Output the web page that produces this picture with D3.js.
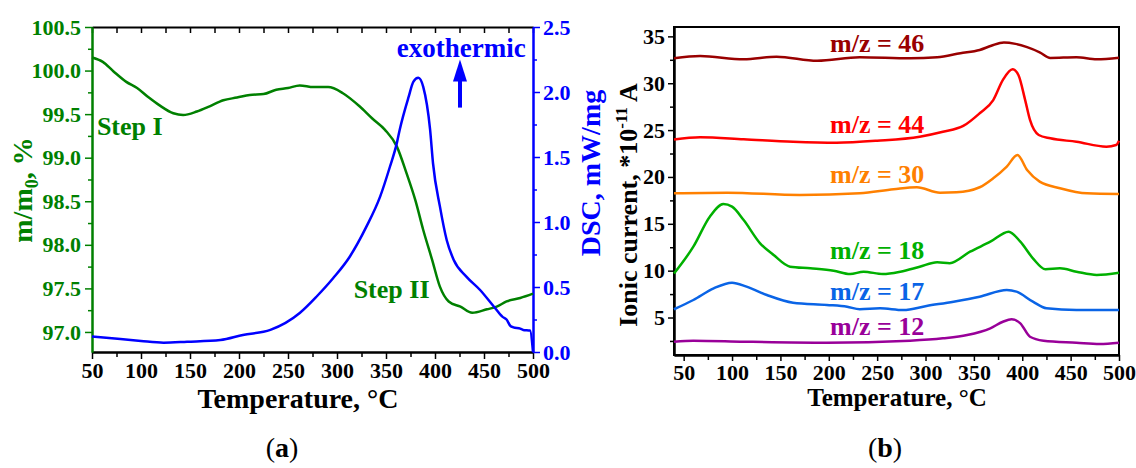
<!DOCTYPE html>
<html>
<head>
<meta charset="utf-8">
<script src="https://cdn.jsdelivr.net/npm/d3@7"></script>
<style>
  body { margin: 0; background: #fff; }
  svg { display: block; }
  text { font-family: "Liberation Serif", "Times New Roman", serif; font-weight: bold; }
</style>
</head>
<body>
<div id="chart"></div>
<script>
// ---- panel (a): TG / DSC ----
const massTemp = [50, 61, 72, 85, 96, 108, 119, 133, 143, 157, 170, 184, 198, 211, 225, 238, 250, 262, 276, 291, 306, 323, 336, 349, 361, 371, 380, 388, 397, 405, 414, 426, 438, 453, 463, 473, 487, 500];
const massPct = [100.15, 100.10, 99.99, 99.87, 99.80, 99.69, 99.60, 99.51, 99.49, 99.53, 99.59, 99.66, 99.69, 99.72, 99.73, 99.78, 99.80, 99.83, 99.81, 99.81, 99.74, 99.59, 99.45, 99.32, 99.13, 98.82, 98.51, 98.17, 97.83, 97.52, 97.35, 97.29, 97.22, 97.26, 97.29, 97.35, 97.39, 97.44];

const dscTemp = [50, 79, 100, 123, 147, 181, 204, 232, 262, 279, 296, 313, 330, 344, 354, 361, 364, 373, 378, 383, 388, 395, 398, 405, 412, 419, 432, 446, 460, 469, 473, 477, 480, 487, 490, 497, 500];
const dscFlow = [0.12, 0.10, 0.085, 0.072, 0.079, 0.092, 0.131, 0.17, 0.30, 0.425, 0.567, 0.733, 0.964, 1.195, 1.425, 1.605, 1.71, 1.96, 2.08, 2.11, 2.04, 1.71, 1.45, 1.12, 0.86, 0.71, 0.58, 0.477, 0.35, 0.27, 0.25, 0.20, 0.19, 0.18, 0.17, 0.165, 0.0];

const massTicks = [97.0, 97.5, 98.0, 98.5, 99.0, 99.5, 100.0, 100.5];
const dscTicks = [0.0, 0.5, 1.0, 1.5, 2.0, 2.5];
const tempTicks = [50, 100, 150, 200, 250, 300, 350, 400, 450, 500];

// ---- panel (b): mass spectrometry ----
const ionLabels = ["m/z = 46", "m/z = 44", "m/z = 30", "m/z = 18", "m/z = 17", "m/z = 12"];

const mz46Temp = [40, 67, 112, 146, 188, 232, 284, 312, 336, 356, 368, 381, 393, 405, 418, 429, 456, 477, 500];
const mz46Curr = [32.66, 32.9, 32.55, 32.83, 32.4, 32.77, 32.66, 32.77, 33.2, 33.55, 34.0, 34.35, 34.2, 33.85, 33.3, 32.7, 32.77, 32.55, 32.72];

const mz44Temp = [40, 67, 112, 163, 208, 250, 294, 318, 339, 356, 370, 380, 390, 396, 403, 408, 417, 429, 456, 487, 497, 500];
const mz44Curr = [24.0, 24.23, 24.02, 23.76, 23.66, 23.87, 24.3, 24.83, 25.44, 26.8, 28.2, 30.35, 31.49, 30.88, 28.2, 26.08, 24.48, 24.12, 23.76, 23.23, 23.41, 23.87];

const mz30Temp = [40, 95, 170, 232, 267, 291, 315, 332, 356, 370, 384, 395, 405, 418, 439, 467, 500];
const mz30Curr = [18.25, 18.32, 18.07, 18.25, 18.68, 18.9, 18.32, 18.36, 18.9, 19.85, 21.1, 22.34, 20.74, 19.5, 18.8, 18.25, 18.18];

const mz18Temp = [40, 60, 77, 91, 100, 112, 129, 143, 160, 181, 205, 222, 236, 256, 274, 294, 312, 325, 346, 367, 386, 398, 411, 424, 439, 456, 477, 500];
const mz18Curr = [9.7, 12.56, 15.76, 17.11, 16.83, 15.4, 12.92, 11.67, 10.42, 10.25, 10.0, 9.64, 9.89, 9.64, 9.89, 10.42, 10.9, 10.8, 12.02, 13.09, 14.16, 13.09, 11.32, 10.15, 10.25, 9.89, 9.54, 9.78];

const mz17Temp = [40, 60, 81, 100, 115, 136, 163, 198, 219, 232, 253, 277, 301, 329, 356, 384, 394, 411, 425, 456, 500];
const mz17Curr = [5.88, 6.87, 8.11, 8.72, 8.29, 7.4, 6.58, 6.34, 6.15, 5.88, 5.98, 5.8, 6.23, 6.69, 7.22, 7.94, 7.76, 6.69, 5.98, 5.8, 5.8];

const mz12Temp = [40, 60, 112, 198, 284, 318, 343, 367, 380, 389, 398, 408, 422, 456, 480, 500];
const mz12Curr = [2.42, 2.53, 2.42, 2.31, 2.53, 2.78, 3.13, 3.85, 4.55, 4.81, 4.38, 2.95, 2.53, 2.31, 2.17, 2.31];

const currentTicks = [5, 10, 15, 20, 25, 30, 35];

const ionSeries = [
  [mz46Temp, mz46Curr],
  [mz44Temp, mz44Curr],
  [mz30Temp, mz30Curr],
  [mz18Temp, mz18Curr],
  [mz17Temp, mz17Curr],
  [mz12Temp, mz12Curr],
];
const ionColors = ["#990000", "#ff0000", "#ff8000", "#00b000", "#0a64e6", "#990099"];
// label anchor (temperature, current) for each series
const ionLabelPos = [[250, 33.3], [250, 24.7], [250, 19.35], [250, 11.24], [250, 6.87], [250, 3.13]];

const width = 1136;
const height = 468;
const green = "#008000";
const blue = "#0000ff";

const svg = d3
  .select("#chart")
  .append("svg")
  .attr("width", width)
  .attr("height", height);

svg.append("rect").attr("width", width).attr("height", height).attr("fill", "#fff");

const styleAxis = (g, color, size) => {
  g.select(".domain").attr("stroke", color).attr("stroke-width", 2);
  g.selectAll(".tick line").attr("stroke", color).attr("stroke-width", 1.5);
  g.selectAll(".tick text")
    .attr("fill", color)
    .style("font-size", size + "px")
    .style("font-family", '"Liberation Serif", "Times New Roman", serif')
    .style("font-weight", "bold");
};

// minor ticks: no labels at all
const styleMinor = (g, color) => {
  styleAxis(g, color, 22);
  g.selectAll(".tick text").remove();
};

const minors = (ticks) => ticks.slice(1).map((t, i) => (t + ticks[i]) / 2);

// ================= panel (a) =================
const xA = d3.scaleLinear().domain([50, 500]).range([92, 533]);
const yMass = d3.scaleLinear().domain([96.77, 100.5]).range([352, 27]);
const yDsc = d3.scaleLinear().domain([0, 2.5]).range([352, 27]);

// top frame, ticks inward
svg.append("g")
  .attr("transform", `translate(0,${yMass.range()[1]})`)
  .call(d3.axisTop(xA).tickValues(d3.range(50, 501, 25)).tickSize(-6).tickSizeOuter(0))
  .call((g) => styleMinor(g, "#000"));

svg.append("g")
  .attr("transform", `translate(0,${yMass.range()[0]})`)
  .call(d3.axisBottom(xA).tickValues(minors(tempTicks)).tickSize(5).tickSizeOuter(0))
  .call((g) => styleMinor(g, "#000"));
svg.append("g")
  .attr("transform", `translate(0,${yMass.range()[0]})`)
  .call(d3.axisBottom(xA).tickValues(tempTicks).tickSize(7).tickPadding(3).tickSizeOuter(0))
  .call((g) => styleAxis(g, "#000", 22));

svg.append("g")
  .attr("transform", `translate(${xA.range()[0]},0)`)
  .call(d3.axisLeft(yMass).tickValues(minors(massTicks)).tickSize(4).tickSizeOuter(0))
  .call((g) => styleMinor(g, green));
svg.append("g")
  .attr("transform", `translate(${xA.range()[0]},0)`)
  .call(d3.axisLeft(yMass).tickValues(massTicks).tickSize(7).tickPadding(4).tickSizeOuter(0).tickFormat(d3.format(".1f")))
  .call((g) => styleAxis(g, green, 22));

svg.append("g")
  .attr("transform", `translate(${xA.range()[1]},0)`)
  .call(d3.axisRight(yDsc).tickValues(minors(dscTicks)).tickSize(4).tickSizeOuter(0))
  .call((g) => styleMinor(g, blue));
svg.append("g")
  .attr("transform", `translate(${xA.range()[1]},0)`)
  .call(d3.axisRight(yDsc).tickValues(dscTicks).tickSize(7).tickPadding(3).tickSizeOuter(0).tickFormat(d3.format(".1f")))
  .call((g) => styleAxis(g, blue, 22));

const massLine = d3.line().x((d) => xA(d[0])).y((d) => yMass(d[1])).curve(d3.curveMonotoneX);
const dscLine = d3.line().x((d) => xA(d[0])).y((d) => yDsc(d[1])).curve(d3.curveMonotoneX);

svg.append("path")
  .datum(d3.zip(massTemp, massPct))
  .attr("d", massLine)
  .attr("fill", "none")
  .attr("stroke", green)
  .attr("stroke-width", 2.5);

svg.append("path")
  .datum(d3.zip(dscTemp, dscFlow))
  .attr("d", dscLine)
  .attr("fill", "none")
  .attr("stroke", blue)
  .attr("stroke-width", 2.5);

svg.append("text")
  .attr("x", xA(55))
  .attr("y", yMass(99.26))
  .attr("fill", green)
  .style("font-size", "26px")
  .text("Step I");

svg.append("text")
  .attr("x", xA(317))
  .attr("y", yMass(97.39))
  .attr("fill", green)
  .style("font-size", "26px")
  .text("Step II");

svg.append("text")
  .attr("x", xA(361))
  .attr("y", yDsc(2.27))
  .attr("fill", blue)
  .style("font-size", "27px")
  .text("exothermic");

// exothermic arrow
const arrowX = xA(425.5);
svg.append("line")
  .attr("x1", arrowX).attr("x2", arrowX)
  .attr("y1", yDsc(1.88)).attr("y2", yDsc(2.12))
  .attr("stroke", blue)
  .attr("stroke-width", 4);
svg.append("path")
  .attr("d", `M${arrowX},${yDsc(2.25)} L${arrowX - 7},${yDsc(2.08)} L${arrowX + 7},${yDsc(2.08)} Z`)
  .attr("fill", blue);

svg.append("text")
  .attr("x", 298)
  .attr("y", 408)
  .attr("text-anchor", "middle")
  .style("font-size", "28px")
  .text("Temperature, °C");

const massTitle = svg.append("text")
  .attr("transform", "translate(32,190) rotate(-90)")
  .attr("text-anchor", "middle")
  .attr("fill", green)
  .style("font-size", "28px");
massTitle.append("tspan").text("m/m");
massTitle.append("tspan").attr("dy", 6).style("font-size", "18px").text("0");
massTitle.append("tspan").attr("dy", -6).text(", %");

svg.append("text")
  .attr("transform", "translate(600,173) rotate(-90)")
  .attr("text-anchor", "middle")
  .attr("fill", blue)
  .style("font-size", "28px")
  .text("DSC, mW/mg");

// ================= panel (b) =================
const xB = d3.scaleLinear().domain([40, 500]).range([674, 1119]);
const yB = d3.scaleLinear().domain([1, 36]).range([355, 27]);

svg.append("rect")
  .attr("x", xB.range()[0])
  .attr("y", yB.range()[1])
  .attr("width", xB.range()[1] - xB.range()[0])
  .attr("height", yB.range()[0] - yB.range()[1])
  .attr("fill", "none")
  .attr("stroke", "#000")
  .attr("stroke-width", 2);

svg.append("g")
  .attr("transform", `translate(0,${yB.range()[0]})`)
  .call(d3.axisBottom(xB).tickValues(minors(tempTicks)).tickSize(5).tickSizeOuter(0))
  .call((g) => styleMinor(g, "#000"));
svg.append("g")
  .attr("transform", `translate(0,${yB.range()[0]})`)
  .call(d3.axisBottom(xB).tickValues(tempTicks).tickSize(6).tickPadding(3).tickSizeOuter(0))
  .call((g) => styleAxis(g, "#000", 22));

svg.append("g")
  .attr("transform", `translate(${xB.range()[0]},0)`)
  .call(d3.axisLeft(yB).tickValues([2.5].concat(minors(currentTicks))).tickSize(4).tickSizeOuter(0))
  .call((g) => styleMinor(g, "#000"));
svg.append("g")
  .attr("transform", `translate(${xB.range()[0]},0)`)
  .call(d3.axisLeft(yB).tickValues(currentTicks).tickSize(6).tickPadding(3).tickSizeOuter(0))
  .call((g) => styleAxis(g, "#000", 22));

const ionLine = d3.line().x((d) => xB(d[0])).y((d) => yB(d[1])).curve(d3.curveMonotoneX);

ionSeries.forEach(([temps, currents], i) => {
  svg.append("path")
    .datum(d3.zip(temps, currents))
    .attr("d", ionLine)
    .attr("fill", "none")
    .attr("stroke", ionColors[i])
    .attr("stroke-width", 2.5);

  svg.append("text")
    .attr("x", xB(ionLabelPos[i][0]))
    .attr("y", yB(ionLabelPos[i][1]))
    .attr("text-anchor", "middle")
    .attr("fill", ionColors[i])
    .style("font-size", "26px")
    .text(ionLabels[i]);
});

svg.append("text")
  .attr("x", 897)
  .attr("y", 406)
  .attr("text-anchor", "middle")
  .style("font-size", "25px")
  .text("Temperature, °C");

const ionTitle = svg.append("text")
  .attr("transform", "translate(637,205) rotate(-90)")
  .attr("text-anchor", "middle")
  .style("font-size", "26px");
ionTitle.append("tspan").text("Ionic current, *10");
ionTitle.append("tspan").attr("dy", -10).style("font-size", "17px").text("-11");
ionTitle.append("tspan").attr("dy", 10).text(" A");

// sub-figure captions
[["a", 282], ["b", 885]].forEach(([letter, x]) => {
  const t = svg.append("text")
    .attr("x", x)
    .attr("y", 457)
    .attr("text-anchor", "middle")
    .style("font-size", "28px")
    .style("font-weight", "normal");
  t.append("tspan").text("(");
  t.append("tspan").style("font-weight", "bold").text(letter);
  t.append("tspan").text(")");
});
</script>
</body>
</html>
